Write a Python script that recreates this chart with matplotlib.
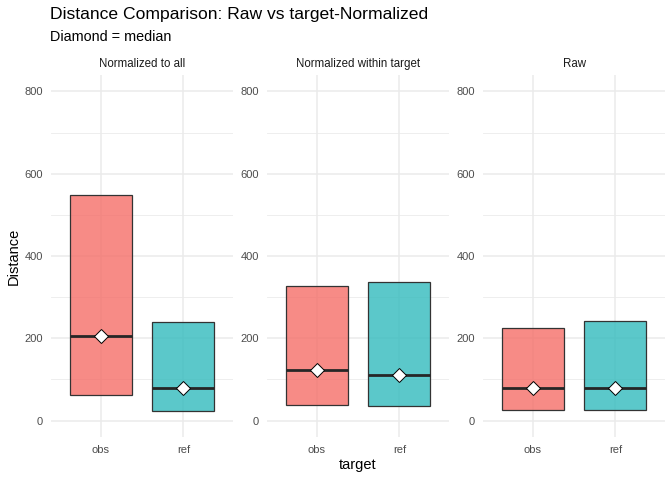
import matplotlib
matplotlib.use("Agg")
import matplotlib.pyplot as plt
import numpy as np

plt.rcParams['font.family'] = ['Liberation Sans', 'DejaVu Sans']

# values
facets = ['Normalized to all', 'Normalized within target', 'Raw']
targets = ['obs', 'ref']
box_low = [[63, 23], [39, 35], [26, 26]]
box_high = [[549, 239], [326, 337], [224, 243]]
box_median = [[206, 79], [124, 111], [78, 80]]

fills = {'obs': '#F56E68', 'ref': '#32BBBD'}
grid_col = '#EBEBEB'
text_col = '#4D4D4D'

fig = plt.figure(figsize=(6.72, 4.8), dpi=100, facecolor='white')

lefts = [51, 267, 483]
for k, name in enumerate(facets):
    ax = fig.add_axes([lefts[k] / 672, 1 - 437 / 480, 182 / 672, 362 / 480])
    ax.set_xlim(0.4, 2.6)
    ax.set_ylim(-40, 840)
    for y in [100, 300, 500, 700]:
        ax.axhline(y, color=grid_col, lw=0.6, zorder=0)
    for y in [0, 200, 400, 600, 800]:
        ax.axhline(y, color=grid_col, lw=1.1, zorder=0)
    for x in [1, 2]:
        ax.axvline(x, color=grid_col, lw=1.1, zorder=0)

    for i, t in enumerate(targets):
        x = i + 1
        lo, hi, med = box_low[k][i], box_high[k][i], box_median[k][i]
        rect = plt.Rectangle((x - 0.375, lo), 0.75, hi - lo,
                             facecolor=fills[t], alpha=0.8,
                             edgecolor='none', zorder=2)
        ax.add_patch(rect)
        edge = plt.Rectangle((x - 0.375, lo), 0.75, hi - lo,
                             facecolor='none', edgecolor='#333333',
                             lw=0.9, zorder=3)
        ax.add_patch(edge)
        ax.plot([x - 0.375, x + 0.375], [med, med], color='#262626',
                lw=2.0, solid_capstyle='butt', zorder=4)
        ax.plot([x], [med], marker='D', ms=7, mfc='white', mec='black',
                mew=0.7, zorder=5)

    ax.set_xticks([1, 2])
    ax.set_xticklabels(targets)
    ax.set_yticks([0, 200, 400, 600, 800])
    ax.tick_params(length=0, labelsize=8, colors=text_col, pad=6)
    for s in ax.spines.values():
        s.set_visible(False)
    ax.set_facecolor('none')
    ax.set_title(name, fontsize=8.3, color='#1A1A1A', pad=6)

fig.text(50 / 672, 1 - 15 / 480, 'Distance Comparison: Raw vs target-Normalized',
         fontsize=12.6, va='center', ha='left', color='black')
fig.text(50 / 672, 1 - 37 / 480, 'Diamond = median',
         fontsize=10.4, va='center', ha='left', color='black')
fig.text(358 / 672, 1 - 465 / 480, 'target', fontsize=10.5,
         ha='center', va='center')
fig.text(14 / 672, 1 - 256 / 480, 'Distance', fontsize=10.5,
         ha='center', va='center', rotation=90)

fig.savefig('out.png', dpi=100, facecolor='white')
